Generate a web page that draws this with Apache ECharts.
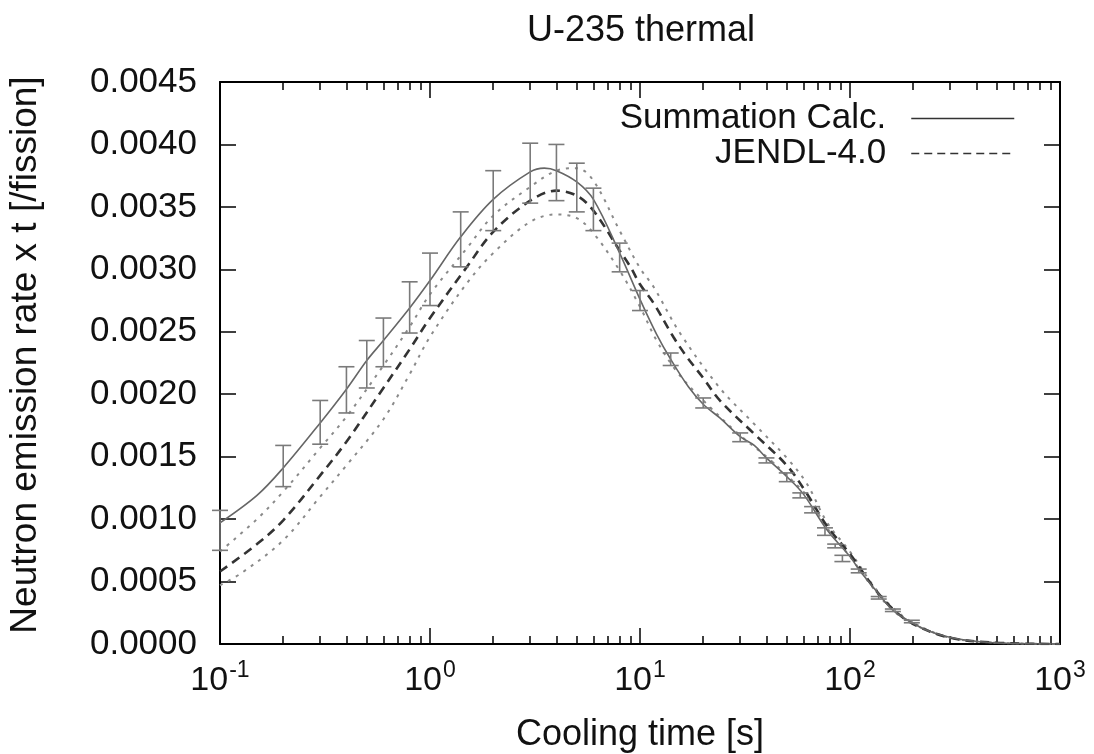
<!DOCTYPE html>
<html><head><meta charset="utf-8">
<script src="https://cdn.jsdelivr.net/npm/echarts@6/dist/echarts.min.js"></script>
<style>html,body{margin:0;padding:0;background:#fff}#c{width:1094px;height:754px}</style>
</head><body><div id="c"></div>
<script>
// ---------- texts ----------
const chartTitle = 'U-235 thermal';
const xAxisName = 'Cooling time [s]';
const yAxisName = 'Neutron emission rate x t [/fission]';
const legendNames = ['Summation Calc.', 'JENDL-4.0'];

// ---------- ticks ----------
const xMajorTicks = [0.1, 1, 10, 100, 1000];
const xTickExponents = ['-1', '0', '1', '2', '3'];
const xMinorTicks = [0.2,0.3,0.4,0.5,0.6,0.7,0.8,0.9, 2,3,4,5,6,7,8,9, 20,30,40,50,60,70,80,90, 200,300,400,500,600,700,800,900];
const yMin = 0, yMax = 0.0045, yStep = 0.0005;

// ---------- Summation Calc. (solid) ----------
const sumT = [0.1,0.15,0.2,0.3,0.4,0.5,0.6,0.8,1,1.4,2,3,3.5,4,5,6,8,10,12,14,17,20,24,30,35,40,50,60,78,100,111,134,160,193,232,288,359,480,700,1000];
const sumY = [0.00097,0.00119,0.00141,0.00177,0.00204,0.00227,0.00243,0.00269,0.00291,0.00326,0.00356,0.00378,0.00381,0.00379,0.00370,0.00356,0.00313,0.00276,0.00248,0.00228,0.00206,0.00192,0.00181,0.00166,0.00159,0.00149,0.00134,0.00120,0.00091,0.00070,0.00059,0.00042,0.00027,0.00018,0.00011,0.00006,0.00003,0.00001,0.000002,0];

// ---------- JENDL-4.0 (dashed) ----------
const jendlT = [0.1,0.15,0.2,0.3,0.4,0.6,0.8,1,1.5,2,3,4,5,6,8,9,10,11.6,14.4,16.7,20,24,34.6,50,62,78,100,130,160,200,300,500,1000];
const jendlY = [0.00058,0.00080,0.00099,0.00135,0.00162,0.00205,0.00236,0.00261,0.00302,0.00330,0.00355,0.00363,0.00359,0.00347,0.00315,0.00302,0.00288,0.00273,0.00246,0.00230,0.00213,0.00195,0.00169,0.00143,0.00121,0.00094,0.00072,0.00045,0.00028,0.00016,0.00005,0.00001,0];

// ---------- JENDL-4.0 uncertainty band (dotted) ----------
const jendlHiT = [0.1,0.15,0.2,0.3,0.4,0.6,0.8,1,1.5,2,3,4,5,6,8,10,11.6,15.5,24,34.6,50,62,78,100,130,160,200,300,500,1000];
const jendlHiY = [0.00074,0.00100,0.00122,0.00157,0.00182,0.00223,0.00254,0.00280,0.00317,0.00343,0.00366,0.00379,0.00381,0.00371,0.00331,0.00301,0.00286,0.00249,0.00205,0.00177,0.00149,0.00129,0.00097,0.00074,0.00046,0.00029,0.00017,0.00005,0.00001,0];
const jendlLoT = [0.1,0.127,0.2,0.3,0.4,0.6,0.8,1,1.5,2,3,4,5,6,8,10,12,15,20,30,40,50,62,80,100,130,160,200,300,500,1000];
const jendlLoY = [0.00047,0.00057,0.00083,0.00118,0.00143,0.00180,0.00216,0.00246,0.00289,0.00313,0.00338,0.00344,0.00341,0.00329,0.00299,0.00270,0.00243,0.00218,0.00195,0.00167,0.00150,0.00135,0.00119,0.00090,0.00070,0.00044,0.00027,0.00016,0.00005,0.00001,0];

// ---------- experimental points (error bars) ----------
const expT  = [0.1,0.2,0.3,0.4,0.5,0.6,0.8,1.0,1.4,2,3,4,5,6,8,10,14,20,30,40,50,58,66,76,85,92,110,137,160,197];
const expLo = [0.00075,0.00126,0.00160,0.00185,0.00205,0.00222,0.00249,0.00271,0.00302,0.00331,0.00353,0.00355,0.00346,0.00331,0.00298,0.00267,0.00223,0.00189,0.00162,0.00145,0.00130,0.00117,0.00105,0.00087,0.00077,0.00066,0.00057,0.00036,0.00026,0.00017];
const expHi = [0.00107,0.00159,0.00195,0.00222,0.00243,0.00261,0.00290,0.00313,0.00346,0.00379,0.00401,0.00400,0.00385,0.00365,0.00321,0.00283,0.00233,0.00197,0.00169,0.00149,0.00137,0.00121,0.00110,0.00093,0.00080,0.00071,0.00060,0.00038,0.00028,0.00019];

const zip = (a, b) => a.map((v, i) => [v, b[i]]);
const FONT = 'Liberation Sans, Arial, Helvetica, sans-serif';
const TXT = '#111';

const chart = echarts.init(document.getElementById('c'), null, {renderer: 'canvas'});

const baseX = {type: 'log', logBase: 10, min: 0.1, max: 1000, gridIndex: 0, splitLine: {show: false}};
const baseY = {type: 'value', min: yMin, max: yMax, interval: yStep, splitLine: {show: false}};

const legendCommon = {
  right: 74, orient: 'vertical', align: 'right',
  itemWidth: 103, itemHeight: 14,
  itemStyle: {opacity: 0},
  textStyle: {fontFamily: FONT, fontSize: 35, color: TXT, padding: [0, 20, 0, 0]}
};

chart.setOption({
  animation: false,
  backgroundColor: '#fff',
  title: {
    text: chartTitle, left: 522, top: 8,
    textStyle: {fontFamily: FONT, fontSize: 36, fontWeight: 'normal', color: TXT}
  },
  grid: {left: 220, right: 34, top: 82, bottom: 110, containLabel: false, outerBoundsMode: 'none'},
  legend: [
    Object.assign({}, legendCommon, {
      data: [legendNames[0]], top: 96,
      lineStyle: {width: 1.5, color: '#333'}
    }),
    Object.assign({}, legendCommon, {
      data: [legendNames[1]], top: 131,
      lineStyle: {width: 1.5, color: '#333', type: [8, 5]}
    })
  ],
  xAxis: [
    Object.assign({}, baseX, {
      position: 'bottom',
      name: xAxisName, nameLocation: 'middle', nameGap: 73,
      nameTextStyle: {fontFamily: FONT, fontSize: 36, color: TXT},
      axisLine: {show: true, lineStyle: {color: '#000', width: 2}},
      axisTick: {show: true, inside: true, length: 16, customValues: xMajorTicks, lineStyle: {color: '#000', width: 1.5}},
      axisLabel: {
        show: true, margin: 14, customValues: xMajorTicks,
        formatter: function (v) {
          const i = xMajorTicks.findIndex(t => Math.abs(Math.log10(t) - Math.log10(v)) < 1e-6);
          return '{b|10}{s|' + (i >= 0 ? xTickExponents[i] : '') + '}';
        },
        rich: {
          b: {fontFamily: FONT, fontSize: 34, color: TXT, verticalAlign: 'bottom', lineHeight: 40},
          s: {fontFamily: FONT, fontSize: 23, color: TXT, verticalAlign: 'bottom', lineHeight: 40, padding: [0, 0, 16, 1]}
        }
      }
    }),
    Object.assign({}, baseX, {
      position: 'bottom',
      axisLine: {show: false},
      axisTick: {show: true, inside: true, length: 8, customValues: xMinorTicks, lineStyle: {color: '#000', width: 1.5}},
      axisLabel: {show: false}
    }),
    Object.assign({}, baseX, {
      position: 'top',
      axisLine: {show: true, lineStyle: {color: '#000', width: 2}},
      axisTick: {show: true, inside: true, length: 16, customValues: xMajorTicks, lineStyle: {color: '#000', width: 1.5}},
      axisLabel: {show: false}
    }),
    Object.assign({}, baseX, {
      position: 'top',
      axisLine: {show: false},
      axisTick: {show: true, inside: true, length: 8, customValues: xMinorTicks, lineStyle: {color: '#000', width: 1.5}},
      axisLabel: {show: false}
    })
  ],
  yAxis: [
    Object.assign({}, baseY, {
      position: 'left',
      name: yAxisName, nameLocation: 'middle', nameGap: 176, nameRotate: 90,
      nameTextStyle: {fontFamily: FONT, fontSize: 37, color: TXT, padding: [0, 0, 0, 16]},
      axisLine: {show: true, lineStyle: {color: '#000', width: 2}},
      axisTick: {show: true, inside: true, length: 16, lineStyle: {color: '#000', width: 1.5}},
      axisLabel: {
        show: true, margin: 23, fontFamily: FONT, fontSize: 35, color: TXT,
        formatter: v => v.toFixed(4)
      }
    }),
    Object.assign({}, baseY, {
      position: 'right',
      axisLine: {show: true, lineStyle: {color: '#000', width: 2}},
      axisTick: {show: true, inside: true, length: 16, lineStyle: {color: '#000', width: 1.5}},
      axisLabel: {show: false}
    })
  ],
  series: [
    {
      name: 'JENDL-4.0 upper', type: 'line', xAxisIndex: 0, yAxisIndex: 0,
      data: zip(jendlHiT, jendlHiY), symbol: 'none', smooth: 0.35,
      lineStyle: {color: '#8a8a8a', width: 2, type: [3, 6]}, z: 2
    },
    {
      name: 'JENDL-4.0 lower', type: 'line', xAxisIndex: 0, yAxisIndex: 0,
      data: zip(jendlLoT, jendlLoY), symbol: 'none', smooth: 0.35,
      lineStyle: {color: '#8a8a8a', width: 2, type: [3, 6]}, z: 2
    },
    {
      name: legendNames[1], type: 'line', xAxisIndex: 0, yAxisIndex: 0,
      data: zip(jendlT, jendlY), symbol: 'none', smooth: 0.35,
      lineStyle: {color: '#333', width: 2.6, type: [9, 6]}, itemStyle: {color: '#333'}, z: 3
    },
    {
      name: legendNames[0], type: 'line', xAxisIndex: 0, yAxisIndex: 0,
      data: zip(sumT, sumY), symbol: 'none', smooth: 0.35,
      lineStyle: {color: '#666', width: 1.6}, itemStyle: {color: '#333'}, z: 4
    },
    {
      name: 'Experiment', type: 'custom', xAxisIndex: 0, yAxisIndex: 0,
      data: expT.map((t, i) => [t, expLo[i], expHi[i]]),
      encode: {x: 0, y: [1, 2]}, clip: false, z: 5,
      renderItem: function (params, api) {
        const t = api.value(0), lo = api.value(1), hi = api.value(2);
        const a = api.coord([t, hi]), b = api.coord([t, lo]);
        const w = 8;
        const st = {stroke: '#7a7a7a', lineWidth: 1.6, fill: null};
        return {type: 'group', children: [
          {type: 'line', shape: {x1: a[0], y1: a[1], x2: b[0], y2: b[1]}, style: st},
          {type: 'line', shape: {x1: a[0] - w, y1: a[1], x2: a[0] + w, y2: a[1]}, style: st},
          {type: 'line', shape: {x1: b[0] - w, y1: b[1], x2: b[0] + w, y2: b[1]}, style: st}
        ]};
      }
    }
  ]
});
</script></body></html>
